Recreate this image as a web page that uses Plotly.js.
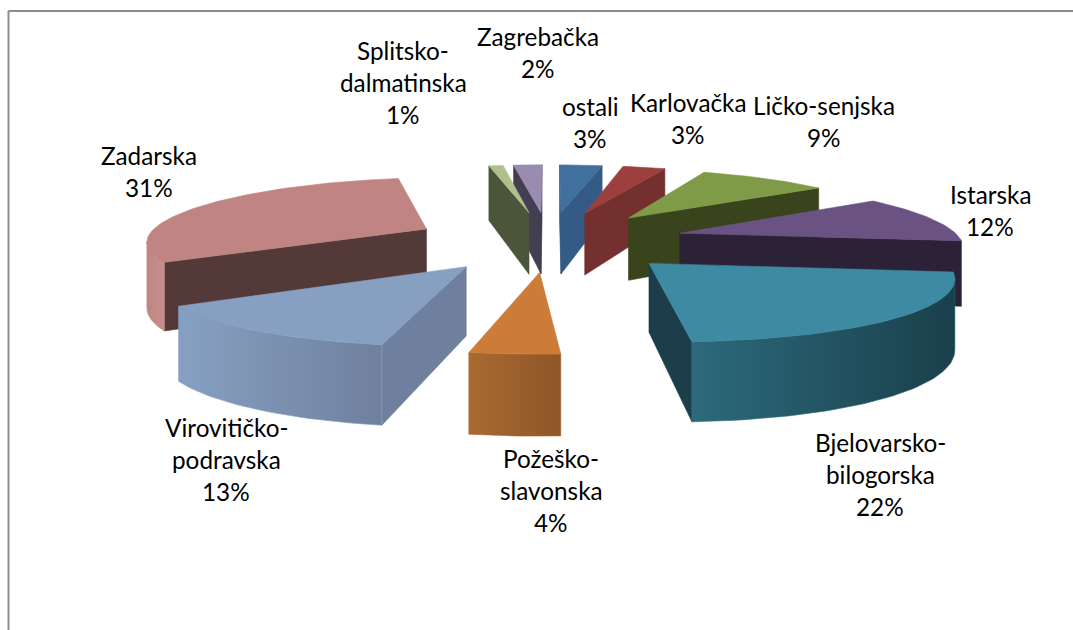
<!DOCTYPE html>
<html><head><meta charset="utf-8">
<script src="https://cdn.plot.ly/plotly-3.0.1.min.js"></script>
<style>html,body{margin:0;padding:0;background:#fff}#c{width:1073px;height:630px}</style>
</head><body><div id="c"></div>
<script>
// Data
const names = ["ostali","Karlovačka","Ličko-senjska","Istarska","Bjelovarsko-bilogorska","Požeško-slavonska","Virovitičko-podravska","Zadarska","Splitsko-dalmatinska","Zagrebačka"];
const values = [3,3,9,12,22,4,13,31,1,2];
const labelLines = [["ostali"],["Karlovačka"],["Ličko-senjska"],["Istarska"],["Bjelovarsko-","bilogorska"],["Požeško-","slavonska"],["Virovitičko-","podravska"],["Zadarska"],["Splitsko-","dalmatinska"],["Zagrebačka"]];
// Styles
const labelX = [590,688,824,990,880,551,226,149,403,538];
const labelY = [106,102,105,194,442,458,427,155,50,36];
const topCol = ["#41709F","#9C403E","#7F9B48","#6A5283","#3E8AA3","#CC7C38","#87A0C2","#C08583","#AFC08D","#9A8CB0"];
const cutCol = ["#345A85","#73302E","#39431C","#2C2238","#1B3E4A","#A0642C","#6F809E","#533938","#4B5539","#443E52"];
const rimA   = ["#345A85","#73302E","#39431C","#2C2238","#2C6A7B","#A86A30","#87A0C2","#C08583","#4B5539","#443E52"];
const rimB   = ["#345A85","#73302E","#39431C","#2C2238","#1A3F4B","#8F5628","#6F809E","#C88F8D","#4B5539","#443E52"];
// Projection of the tilted, exploded pie
const cx=549, cy=240.5, C=281, A=61, B=0.135, Bx=0.16, EXPL=0.49, H=65.5;
const S=v=>1/(1-B*v), Sx=v=>1/(1-Bx*v);
const proj=(u,v,low)=>[cx+C*u*Sx(v), cy+A*v*S(v)+(low?H*S(v):0)];
const area=p=>{let a=0;for(let i=0;i<p.length;i++){const q=p[(i+1)%p.length];a+=p[i][0]*q[1]-q[0]*p[i][1];}return a/2;};
const total=values.reduce((a,b)=>a+b,0);
const traces=[];
function poly(pts,color,grad){
  const t={type:"scatter",mode:"lines",x:pts.map(p=>p[0]).concat(pts[0][0]),y:pts.map(p=>p[1]).concat(pts[0][1]),
    fill:"toself",line:{width:0.6,color:color},fillcolor:color,hoverinfo:"skip",showlegend:false};
  if(grad){t.fillgradient={type:"horizontal",colorscale:[[0,grad[0]],[1,grad[1]]]};}
  traces.push(t);
}
let cum=0; const slices=values.map((val,i)=>{
  const a0=cum/total*2*Math.PI; cum+=val; const a1=cum/total*2*Math.PI; const m=(a0+a1)/2;
  return {i,a0,a1,au:EXPL*Math.sin(m),av:-EXPL*Math.cos(m)};
});
slices.slice().sort((a,b)=>a.av-b.av).forEach(s=>{
  const n=Math.max(4,Math.round((s.a1-s.a0)*40));
  const arc=[];for(let k=0;k<=n;k++){const t=s.a0+(s.a1-s.a0)*k/n;arc.push([s.au+Math.sin(t),s.av-Math.cos(t)]);}
  const apex=[s.au,s.av];
  const quad=(a,b)=>[proj(a[0],a[1]),proj(b[0],b[1]),proj(b[0],b[1],true),proj(a[0],a[1],true)];
  const f1=quad(apex,arc[0]), f2=quad(arc[n],apex);
  if(area(f1)<0) poly(f1,cutCol[s.i]);
  if(area(f2)<0) poly(f2,cutCol[s.i]);
  let run=[];
  const flush=()=>{ if(run.length>1){
      const up=run.map(p=>proj(p[0],p[1])), lo=run.map(p=>proj(p[0],p[1],true)).reverse();
      poly(up.concat(lo),rimA[s.i],[rimA[s.i],rimB[s.i]]);
    } run=[]; };
  for(let k=0;k<n;k++){
    if(area(quad(arc[k],arc[k+1]))<0){ if(!run.length) run.push(arc[k]); run.push(arc[k+1]); }
    else flush();
  }
  flush();
  poly([apex].concat(arc).map(p=>proj(p[0],p[1])),topCol[s.i]);
});
const annotations=[];
labelLines.forEach((lines,i)=>{
  lines.concat(values[i]+"%").forEach((t,j)=>{
    annotations.push({xref:"x",yref:"y",x:labelX[i],y:labelY[i]+j*32.3,text:t,showarrow:false,xanchor:"center",yanchor:"middle",
      font:{family:"Lato, Carlito, sans-serif",size:24.3,color:"#000"}});
  });
});
const border={color:"#8C8C8C",width:2};
Plotly.newPlot("c",traces,{
  width:1073,height:630,margin:{l:0,r:0,t:0,b:0},paper_bgcolor:"#fff",plot_bgcolor:"#fff",showlegend:false,
  xaxis:{range:[0,1073],visible:false,fixedrange:true},
  yaxis:{range:[630,0],visible:false,fixedrange:true},
  annotations,
  shapes:[
    {type:"line",xref:"x",yref:"y",x0:8.5,x1:1073,y0:11,y1:11,line:border},
    {type:"line",xref:"x",yref:"y",x0:8.5,x1:8.5,y0:11,y1:630,line:border}
  ]
},{displayModeBar:false,staticPlot:true});
</script></body></html>
